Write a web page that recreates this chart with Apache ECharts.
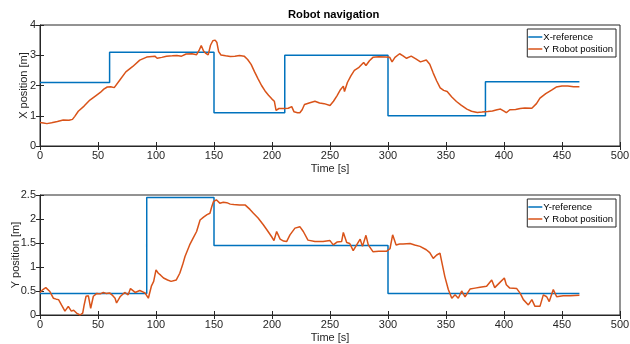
<!DOCTYPE html>
<html><head><meta charset="utf-8">
<script src="https://cdn.jsdelivr.net/npm/echarts@6/dist/echarts.min.js"></script>
<style>html,body{margin:0;padding:0;background:#fff}#c{width:630px;height:344px}</style>
</head><body><div id="c"></div>
<script>
const xTicks = [0,50,100,150,200,250,300,350,400,450,500];
const xRefT = [0, 60, 150, 211, 300, 384, 465];
const xRefV = [2.1, 3.1, 1.1, 3.0, 1.0, 2.12, 2.12];
const yRefT = [0, 92, 150, 300, 465];
const yRefV = [0.45, 2.45, 1.45, 0.45, 0.45];
const xPosT = [0,3,6,10,15,20,25,28,30,33,38,43,48,52,55,58,61,64,69,74,80,86,92,99,101,105,109,114,118,122,126,131,135,137,139,141,143,145,147,149,151,152.5,154,156,160,164,168,172,176,179,182,185,188,191,194,197,200,202,203.5,206,210,214,217,219,222,224,226,228,232,237,241,245,250,253,256,259,261.5,262.5,265,268,271,275,279,281,284,287,292,298,301.5,303.5,306,310,313,316,320,324,328,333,336,339,342,345,348,351,355,359,363,368,372,377,381,386,390,394,397,400,402,405,410,414,418,424,428,431,436,441,445,450,455,460,465];
const xPosV = [0.78,0.76,0.74,0.77,0.81,0.86,0.85,0.88,0.98,1.15,1.32,1.52,1.66,1.77,1.88,1.95,1.96,1.93,2.19,2.45,2.63,2.84,2.94,2.97,2.9,2.93,2.97,2.98,2.99,2.97,3.04,3.05,3.02,3.15,3.32,3.14,3.06,3.01,3.33,3.48,3.5,3.42,3.12,3.01,2.98,2.96,2.97,2.99,2.97,2.86,2.7,2.45,2.22,2.0,1.82,1.68,1.55,1.48,1.18,1.24,1.24,1.25,1.3,1.13,1.1,1.1,1.2,1.37,1.42,1.48,1.42,1.4,1.34,1.48,1.66,1.86,1.98,1.8,2.1,2.32,2.5,2.6,2.76,2.66,2.82,2.93,2.95,2.94,2.93,2.78,2.93,3.05,2.98,2.9,2.97,2.88,2.78,2.84,2.7,2.41,2.15,1.92,1.84,1.8,1.62,1.47,1.35,1.22,1.15,1.11,1.12,1.14,1.16,1.2,1.22,1.15,1.1,1.2,1.21,1.24,1.26,1.25,1.4,1.58,1.73,1.85,1.95,1.98,1.98,1.96,1.96];
const yPosT = [0,2.5,5,6.6,8.5,10,11.5,14,16,18.5,21.5,24.4,27,29,31.5,34.5,36.8,38,39.7,41.7,43.7,46,49,52,54.6,57,60,62,64.7,66,69,73,76,78,82,86,90.5,93.4,96,98,100,102,104,106.5,110,113,117.5,120.5,123,125,129,132,135,138,141,144,146.5,148,149.5,152,155,158,161,164,167,172,177,181,184,188,192.5,196,199.7,201.7,204,207,210,212.6,215.5,219.8,224,227,231,237,241,244,250,252.8,256,260,261.5,264.4,267,270,273,276,278,281,283,287,292,298.9,301.7,304,307,310,313,319,323,327.6,333,336,339,342,344.8,346.3,349,352,355,357.8,360.6,363.5,366.4,370.7,375,379.3,385,389.4,392,396.5,400.3,402,405,411,414,416.7,421,424,426.7,431,433.9,436.8,439,442.5,445.4,451,457,465];
const yPosV = [0.47,0.53,0.57,0.6,0.49,0.42,0.35,0.33,0.32,0.21,0.08,0.18,0.08,0.1,0.04,0.0,0.04,0.2,0.39,0.4,0.14,0.39,0.45,0.44,0.47,0.45,0.46,0.42,0.35,0.25,0.38,0.47,0.42,0.55,0.47,0.51,0.46,0.35,0.6,0.7,0.94,0.87,0.83,0.77,0.73,0.7,0.73,0.87,1.05,1.22,1.46,1.6,1.74,1.98,2.04,2.09,2.12,2.25,2.36,2.4,2.33,2.35,2.34,2.31,2.3,2.29,2.29,2.2,2.12,2.02,1.88,1.76,1.63,1.55,1.74,1.58,1.54,1.53,1.67,1.81,1.84,1.74,1.56,1.53,1.53,1.53,1.55,1.46,1.52,1.53,1.72,1.51,1.49,1.34,1.46,1.58,1.43,1.66,1.46,1.32,1.33,1.33,1.38,1.67,1.46,1.48,1.48,1.49,1.46,1.43,1.36,1.3,1.18,1.25,1.29,1.11,0.8,0.53,0.35,0.42,0.35,0.5,0.38,0.54,0.56,0.58,0.6,0.73,0.57,0.68,0.77,0.63,0.56,0.55,0.45,0.32,0.21,0.32,0.18,0.18,0.42,0.38,0.28,0.53,0.38,0.4,0.4,0.41];

const zip = (a,b) => a.map((t,i)=>[t,b[i]]);
const BLUE = '#0072BD', ORANGE = '#D95319', INK = '#262626';
const FONT = '"Liberation Sans", Arial, Helvetica, sans-serif';

function xAx(gi, main, name) {
  return {
    type:'value', gridIndex:gi, min:0, max:500, interval:50,
    position: main ? 'bottom' : 'top',
    name: main ? name : '', nameLocation:'middle', nameGap:17, nameMoveOverlap:false,
    nameTextStyle:{color:INK, fontSize:11, fontFamily:FONT},
    axisLine:{show:main, lineStyle:{color:INK, width:1}},
    axisTick:{show:true, inside:true, length:4, lineStyle:{color:INK}},
    axisLabel:{show:main, color:INK, fontSize:11, fontFamily:FONT, margin:4},
    splitLine:{show:false}
  };
}
function yAx(gi, main, max, interval, name, gap) {
  return {
    type:'value', gridIndex:gi, min:0, max:max, interval:interval,
    position: main ? 'left' : 'right',
    name: main ? name : '', nameLocation:'middle', nameGap:gap, nameMoveOverlap:false,
    nameTextStyle:{color:INK, fontSize:11, fontFamily:FONT},
    axisLine:{show:main, lineStyle:{color:INK, width:1}},
    axisTick:{show:true, inside:true, length:4, lineStyle:{color:INK}},
    axisLabel:{show:main, color:INK, fontSize:11, fontFamily:FONT, margin:4},
    splitLine:{show:false}
  };
}
const legendBase = {
  orient:'vertical', right:14, itemWidth:14, itemHeight:8, itemGap:2,
  padding:[3,3,3,1], borderColor:INK, borderWidth:1, backgroundColor:'#fff',
  textStyle:{color:'#000', fontSize:9.5, fontFamily:FONT, padding:[0,0,0,-4]},
  icon:'path://M0,4 L14,4 L14,5.5 L0,5.5 Z'
};
const chart = echarts.init(document.getElementById('c'), null, {renderer:'canvas'});
chart.setOption({
  animation:false,
  backgroundColor:'#fff',
  title:{text:'Robot navigation', left:283, top:4,
    textStyle:{fontSize:11.2, fontWeight:'bold', color:'#000', fontFamily:FONT}},
  grid:[
    {left:40, right:10, top:25, height:121, show:true, borderColor:INK, borderWidth:1, backgroundColor:'#fff', containLabel:false, outerBoundsMode:'none'},
    {left:40, right:10, top:195, height:120, show:true, borderColor:INK, borderWidth:1, backgroundColor:'#fff', containLabel:false, outerBoundsMode:'none'}
  ],
  xAxis:[xAx(0,true,'Time [s]'), xAx(0,false), xAx(1,true,'Time [s]'), xAx(1,false)],
  yAxis:[yAx(0,true,4,1,'X position [m]',11), yAx(0,false,4,1), yAx(1,true,2.5,0.5,'Y position [m]',19), yAx(1,false,2.5,0.5)],
  legend:[
    Object.assign({}, legendBase, {top:29, data:[{name:'X-reference', itemStyle:{color:BLUE}}, {name:'Y Robot position', itemStyle:{color:ORANGE}}]}),
    Object.assign({}, legendBase, {top:199, data:[{name:'Y-reference', itemStyle:{color:BLUE}}, {name:'Y Robot position', itemStyle:{color:ORANGE}}]})
  ],
  series:[
    {name:'X-reference', type:'line', xAxisIndex:0, yAxisIndex:0, step:'end', showSymbol:false, symbol:'none', data:zip(xRefT,xRefV), lineStyle:{color:BLUE, width:1.5}, itemStyle:{color:BLUE}},
    {name:'Y Robot position', type:'line', xAxisIndex:0, yAxisIndex:0, showSymbol:false, symbol:'none', data:zip(xPosT,xPosV), lineStyle:{color:ORANGE, width:1.5}, itemStyle:{color:ORANGE}},
    {name:'Y-reference', type:'line', xAxisIndex:2, yAxisIndex:2, step:'end', showSymbol:false, symbol:'none', data:zip(yRefT,yRefV), lineStyle:{color:BLUE, width:1.5}, itemStyle:{color:BLUE}},
    {name:'Y Robot position', type:'line', xAxisIndex:2, yAxisIndex:2, showSymbol:false, symbol:'none', data:zip(yPosT,yPosV), lineStyle:{color:ORANGE, width:1.5}, itemStyle:{color:ORANGE}}
  ]
});
</script></body></html>
